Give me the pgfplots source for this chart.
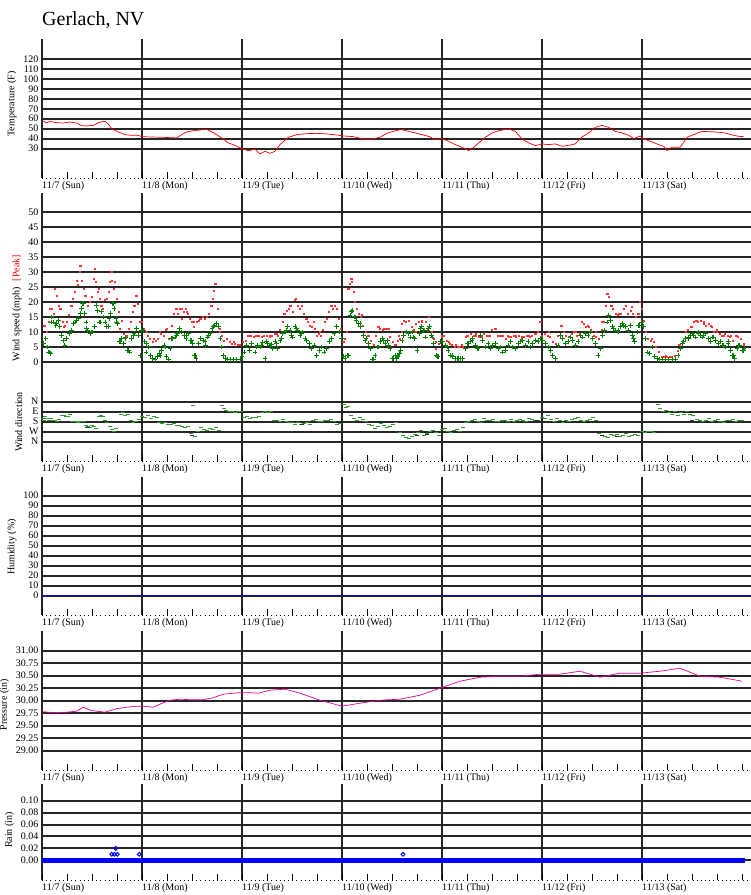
\documentclass[border=0pt]{standalone}
\usepackage{fontspec}
\setmainfont{Liberation Serif}
\usepackage{pgfplots}
\pgfplotsset{compat=1.18}
\usepackage{pgfplotstable}

\definecolor{windgreen}{RGB}{0,128,0}

\pgfplotsset{
  panel/.style={
    scale only axis, width=709pt, xmin=0, xmax=7.09,
    axis x line*=bottom, axis y line*=left,
    y axis line style={draw=none},
    x axis line style={black, line width=0.8pt, dash pattern=on 0.8pt off 3.37pt},
    xtick={0,...,6},
    xticklabels={11/7 (Sun),11/8 (Mon),11/9 (Tue),11/10 (Wed),11/11 (Thu),11/12 (Fri),11/13 (Sat)},
    minor xtick={0,0.25,...,7},
    major tick length=0pt, minor tick length=6pt,
    tick align=inside,
    minor tick style={black, line width=0.8pt},
    xmajorgrids, ymajorgrids,
    grid style={black!85, line width=2pt},
    tick label style={font=\fontsize{10}{12}\selectfont},
    label style={font=\fontsize{10}{12}\selectfont},
    xticklabel style={anchor=north west, inner sep=0pt, yshift=-3pt},
    /pgf/number format/assume math mode=true,
  },
}

% temperature (F)
\pgfplotstableread{
d t
0.007 58
0.047 55.7
0.08 57.3
0.147 56
0.213 55.7
0.28 56.7
0.347 55.7
0.397 53
0.447 52.7
0.513 53.3
0.58 56.7
0.63 57.3
0.663 54.7
0.697 50
0.763 46.7
0.83 44
0.897 43.3
0.963 43.3
0.997 42
1.08 41.7
1.213 41.3
1.347 40.7
1.397 44
1.447 46.7
1.513 48
1.58 48.7
1.647 49.3
1.713 46
1.797 40.7
1.863 35.7
1.93 33.3
1.997 30
2.063 28
2.13 29.3
2.18 24.7
2.23 27.3
2.28 25.3
2.33 27.3
2.38 34
2.463 41.3
2.547 44
2.647 45
2.747 45.3
2.847 44.7
2.947 43.7
3.013 42.7
3.113 42
3.213 39.7
3.28 39.3
3.38 41.3
3.447 45.3
3.513 47.3
3.573 48.7
3.6 49
3.667 47.3
3.733 45.7
3.8 44
3.867 42.3
3.933 39
4.0 40
4.067 37.3
4.133 34
4.2 31.3
4.267 28
4.317 31.3
4.367 35.7
4.433 41.3
4.5 45.7
4.567 48
4.667 49.7
4.733 47.3
4.8 39.7
4.867 35.7
4.933 33
5.0 34.7
5.067 34
5.133 34.7
5.2 32.3
5.267 33.3
5.333 34.7
5.4 41.7
5.467 45.7
5.533 51.3
5.6 53.3
5.667 51.3
5.733 47.3
5.8 45.7
5.867 43.3
5.917 40
5.983 42.7
6.017 39.7
6.1 36.7
6.167 34
6.217 32.3
6.25 28
6.3 31.3
6.383 31.3
6.45 41.3
6.533 44.7
6.6 47.3
6.733 46.7
6.833 45.7
6.9 43.7
6.967 42.3
7.017 42
}\temptable

% average wind (mph)
\pgfplotstableread{
d w
0.013 6.1
0.02 6.1
0.04 7.8
0.053 5
0.063 3.3
0.073 3.3
0.087 2.8
0.097 13.3
0.1 15
0.12 13.3
0.14 12.2
0.147 12.8
0.163 13.9
0.18 11.7
0.197 8.9
0.213 7.2
0.23 5.6
0.247 7.8
0.273 9.4
0.28 9.4
0.297 10.6
0.313 12.8
0.33 13.3
0.34 13.9
0.363 14.4
0.38 16.1
0.393 17.8
0.407 19.4
0.413 19.4
0.423 16.1
0.44 13.3
0.447 11.1
0.457 10.6
0.48 9.4
0.497 10
0.507 10
0.523 11.7
0.54 18.9
0.547 18.9
0.553 17.2
0.573 13.3
0.58 13.3
0.597 16.7
0.613 15
0.63 13.3
0.647 11.7
0.663 11.7
0.67 14.4
0.687 16.1
0.703 19.4
0.713 19.4
0.72 17.8
0.74 14.4
0.747 13.3
0.757 12.8
0.773 6.7
0.78 6.7
0.797 7.8
0.813 6.1
0.83 7.8
0.833 8.3
0.853 3.9
0.863 3.9
0.873 3.3
0.897 7.8
0.913 8.9
0.92 9.4
0.94 11.1
0.947 11.1
0.963 8.9
0.98 2.2
0.997 10.6
1.013 10.6
1.02 6.7
1.04 3.3
1.047 6.1
1.063 5
1.08 2.2
1.087 2.2
1.107 1.1
1.13 0.9
1.153 1.7
1.173 2.8
1.18 2.2
1.197 3.9
1.22 5.6
1.23 5
1.24 1.7
1.263 0.9
1.28 4.4
1.297 7.8
1.307 7.8
1.33 8.3
1.347 8.9
1.353 9.4
1.373 11.1
1.397 10
1.42 8.9
1.44 7.8
1.447 8.9
1.463 9.4
1.487 7.2
1.497 7.2
1.507 6.1
1.523 2.2
1.53 2.2
1.54 1.1
1.563 6.1
1.58 7.8
1.587 7.8
1.613 7.2
1.63 6.7
1.637 5.6
1.657 8.3
1.663 8.9
1.68 9.4
1.7 11.1
1.713 11.7
1.72 12.2
1.74 12.8
1.747 12.8
1.763 11.7
1.78 7.8
1.797 5
1.813 2.2
1.83 1.1
1.853 0.9
1.88 0.9
1.913 0.9
1.947 0.9
1.98 0.9
2.0 1.7
2.02 3.3
2.047 5.6
2.073 3.9
2.097 6.1
2.13 3.3
2.147 5
2.153 5.6
2.18 5
2.197 5.6
2.207 6.4
2.23 1.1
2.247 6.7
2.253 6.1
2.28 5.6
2.297 5.8
2.307 4.4
2.33 6.7
2.347 6.1
2.353 4.4
2.38 7.2
2.397 7.8
2.407 9.4
2.43 10
2.447 10.6
2.453 11.7
2.48 10.6
2.497 8.9
2.507 8.3
2.53 11.7
2.547 11.1
2.553 10.6
2.58 8.9
2.597 9.4
2.607 10
2.63 7.8
2.647 7.2
2.673 6.1
2.697 4.4
2.72 5.6
2.747 2.2
2.773 3.9
2.797 5
2.82 3.3
2.847 4.4
2.873 6.7
2.897 7.8
2.92 9.4
2.947 11.7
2.97 10
2.99 7.8
2.997 7.8
3.013 1.7
3.03 1.1
3.053 2.2
3.063 2.2
3.08 15.6
3.097 16.7
3.1 17.2
3.12 15
3.13 15
3.14 13.9
3.163 12.8
3.18 12.8
3.187 11.7
3.213 8.9
3.23 7.2
3.24 7.8
3.263 6.1
3.287 4.4
3.307 0.9
3.313 0.9
3.33 2.2
3.353 5
3.363 5
3.38 6.7
3.407 7.8
3.413 7.2
3.43 6.1
3.453 7.2
3.463 5.6
3.48 4.4
3.507 1.1
3.513 1.1
3.53 2.2
3.543 1.1
3.553 1.7
3.56 1.7
3.573 2.8
3.583 3.9
3.6 7.2
3.617 8.9
3.64 10
3.66 9.4
3.667 9.4
3.683 8.3
3.707 10
3.717 8.3
3.727 7.8
3.75 3.9
3.773 9.4
3.783 11.1
3.793 11.7
3.813 10.6
3.833 8.3
3.853 10.6
3.867 11.1
3.873 11.7
3.893 8.9
3.9 8.3
3.917 6.1
3.94 2.2
3.95 1.7
3.96 1.7
3.983 6.7
4.0 6.7
4.007 6.7
4.033 5.6
4.05 5
4.06 3.9
4.083 2.2
4.1 2.2
4.107 1.7
4.133 1.1
4.15 1.1
4.16 1.1
4.183 1.1
4.2 1.1
4.207 1.1
4.233 4.4
4.25 6.1
4.26 6.1
4.283 6.7
4.3 7.2
4.307 7.8
4.333 5.6
4.35 4.4
4.36 4.4
4.383 8.9
4.407 7.2
4.433 5
4.46 6.1
4.483 4.4
4.507 5.6
4.533 6.1
4.56 4.4
4.583 5
4.607 3.3
4.633 3.9
4.66 5.6
4.683 6.7
4.707 5
4.733 4.4
4.76 6.1
4.783 6.7
4.807 7.2
4.833 5.6
4.86 6.7
4.883 5
4.907 6.1
4.933 7.2
4.96 6.7
4.983 7.8
5.007 7.2
5.033 6.1
5.06 5
5.083 3.9
5.107 2.2
5.133 1.1
5.16 5.6
5.183 8.9
5.207 7.8
5.233 6.1
5.26 6.7
5.283 8.3
5.307 7.2
5.333 5.6
5.36 6.7
5.383 8.9
5.407 8.3
5.433 9.4
5.46 8.9
5.483 10
5.507 7.8
5.533 6.1
5.56 2.2
5.583 4.4
5.607 8.9
5.627 10.6
5.65 13.3
5.667 15.6
5.683 13.9
5.707 11.7
5.717 11.1
5.733 10.6
5.76 10.6
5.767 10
5.783 11.7
5.807 12.8
5.817 12.2
5.833 11.7
5.86 10.6
5.867 10.6
5.883 12.2
5.907 8.9
5.917 7.8
5.927 6.7
5.95 10
5.967 12.2
5.973 12.2
5.993 13.3
6.017 11.7
6.033 7.8
6.05 3.3
6.073 2.8
6.1 5
6.127 1.7
6.15 1.1
6.173 0.9
6.2 0.9
6.233 0.9
6.267 0.9
6.3 0.9
6.333 0.9
6.36 2.2
6.383 4.4
6.407 6.1
6.417 6.7
6.433 7.8
6.46 8.3
6.467 7.8
6.483 8.9
6.507 9.4
6.517 8.9
6.533 8.3
6.56 10
6.567 9.4
6.583 8.9
6.607 8.3
6.617 8.9
6.633 9.4
6.66 7.8
6.667 7.8
6.683 6.7
6.707 8.3
6.717 8.3
6.733 7.2
6.76 6.1
6.767 6.1
6.783 6.7
6.807 5.6
6.817 5.6
6.833 5
6.86 6.1
6.867 6.7
6.883 3.9
6.907 2.2
6.917 2.2
6.927 1.1
6.95 4.4
6.967 5.6
6.973 5.6
7.0 3.9
7.017 3.9
7.02 4.4
}\windtable

% peak wind (mph)
\pgfplotstableread{
d p
0.013 12.2
0.027 12.2
0.047 10
0.067 13.3
0.08 17.8
0.097 17.8
0.113 16.1
0.13 24.4
0.147 22.2
0.163 18.9
0.18 17.8
0.187 17.8
0.207 13.3
0.22 11.7
0.23 12.2
0.247 13.3
0.267 15.6
0.287 18.9
0.297 18.9
0.307 21.1
0.327 23.3
0.347 27.2
0.36 25.6
0.373 30
0.38 32.2
0.387 32.2
0.4 27.2
0.413 24.4
0.43 22.2
0.433 22.2
0.453 18.9
0.473 20
0.48 20
0.497 21.7
0.513 27.8
0.523 31.1
0.533 26.7
0.553 23.3
0.563 24.4
0.573 21.1
0.587 18.9
0.597 18.9
0.607 17.8
0.63 20.6
0.647 21.1
0.667 23.3
0.68 26.7
0.69 30
0.697 30
0.7 27.2
0.713 24.4
0.73 26.7
0.747 21.1
0.767 16.7
0.78 11.1
0.8 13.9
0.82 9.4
0.84 8.9
0.847 8.9
0.863 11.1
0.887 13.3
0.907 16.7
0.913 18.9
0.923 18.9
0.94 22.2
0.947 22.2
0.957 19.4
0.973 13.3
0.993 13.3
0.997 13.3
1.013 11.1
1.033 10
1.047 10
1.053 8.9
1.08 7.8
1.107 6.7
1.113 7.8
1.133 7.2
1.16 7.8
1.18 10
1.187 9.4
1.213 8.9
1.24 10.6
1.247 11.1
1.267 7.8
1.293 12.2
1.313 16.1
1.333 17.8
1.347 17.8
1.353 16.1
1.373 17.8
1.393 14.4
1.397 17.8
1.413 16.7
1.433 17.8
1.447 16.7
1.453 16.1
1.473 14.4
1.5 13.3
1.513 13.3
1.52 11.7
1.547 13.3
1.567 13.9
1.58 14.4
1.587 14.4
1.607 15
1.627 14.4
1.647 15
1.667 16.1
1.687 18.9
1.697 18.9
1.707 21.1
1.72 23.9
1.73 26.1
1.733 26.1
1.753 17.8
1.773 11.1
1.78 10
1.793 8.9
1.82 7.2
1.847 7.8
1.873 6.7
1.9 6.1
1.913 6.7
1.927 6.1
1.953 5.6
1.98 5.6
2.007 6.7
2.033 7.2
2.06 8.9
2.063 8.9
2.087 8.9
2.113 8.3
2.14 8.9
2.147 8.9
2.167 8.9
2.193 8.3
2.213 8.9
2.22 8.9
2.247 8.9
2.273 8.3
2.28 8.9
2.3 8.9
2.327 9.4
2.347 9.4
2.353 8.9
2.38 10.6
2.407 13.3
2.413 16.1
2.427 16.1
2.447 17.2
2.467 17.8
2.48 18.9
2.487 18.9
2.507 16.7
2.527 20.6
2.54 21.1
2.56 18.9
2.58 17.8
2.597 18.9
2.6 18.9
2.62 16.1
2.64 14.4
2.647 14.4
2.66 13.3
2.68 12.2
2.7 11.7
2.713 13.3
2.727 11.1
2.747 8.9
2.767 9.4
2.78 10
2.787 8.9
2.807 10.6
2.827 13.3
2.847 14.4
2.867 16.7
2.887 18.9
2.897 18.9
2.907 17.8
2.927 18.9
2.947 17.8
2.967 14.4
2.987 11.1
3.007 6.7
3.013 6.7
3.027 7.8
3.047 10
3.06 24.4
3.063 24.4
3.073 26.1
3.087 27.8
3.097 27.8
3.1 26.7
3.113 23.3
3.127 20
3.13 20
3.147 17.8
3.167 16.1
3.187 15
3.197 15.6
3.207 12.2
3.233 10
3.26 8.9
3.263 8.9
3.287 7.2
3.313 5.6
3.34 8.9
3.36 11.7
3.363 11.7
3.38 11.1
3.407 10.6
3.413 11.1
3.433 11.1
3.46 11.1
3.463 11.1
3.48 8.3
3.507 6.7
3.53 5.6
3.533 5.6
3.56 7.2
3.567 8.9
3.573 7.8
3.593 12.8
3.6 10
3.617 13.9
3.64 13.3
3.667 13.9
3.693 11.7
3.717 10.6
3.733 10
3.74 12.8
3.767 13.3
3.793 13.9
3.8 13.3
3.817 11.1
3.84 13.3
3.867 15
3.893 10
3.917 7.8
3.933 6.7
3.94 4.4
3.967 6.1
3.993 8.3
4.0 8.9
4.02 8.9
4.05 7.2
4.067 6.7
4.073 6.1
4.1 5.6
4.127 5
4.133 5.6
4.153 5
4.18 5
4.2 5.6
4.207 5
4.233 8.3
4.25 8.9
4.26 8.9
4.287 9.4
4.313 8.9
4.333 8.9
4.34 9.4
4.367 8.3
4.393 8.9
4.4 8.3
4.42 9.4
4.447 8.9
4.467 8.9
4.473 8.9
4.5 10.6
4.527 11.1
4.533 11.1
4.553 8.9
4.58 8.9
4.6 8.9
4.607 8.9
4.633 7.8
4.66 8.9
4.667 8.3
4.687 8.3
4.713 8.9
4.733 8.9
4.74 8.3
4.767 8.9
4.793 7.8
4.8 8.3
4.82 8.3
4.847 8.9
4.867 8.9
4.873 8.3
4.9 8.9
4.927 9.4
4.933 9.4
4.953 10
4.973 13.3
4.983 13.3
5.0 8.9
5.027 9.4
5.053 8.9
5.067 10
5.08 8.3
5.107 6.7
5.133 6.1
5.16 8.9
5.187 12.2
5.2 12.2
5.213 10
5.24 8.9
5.267 8.3
5.293 9.4
5.32 10
5.333 10
5.347 8.9
5.373 9.4
5.4 13.3
5.42 12.8
5.44 11.7
5.46 12.2
5.467 11.7
5.487 10.6
5.513 8.9
5.533 10
5.54 8.3
5.567 7.8
5.593 10.6
5.6 13.3
5.62 13.3
5.64 18.9
5.65 22.8
5.653 22.8
5.667 21.7
5.687 18.9
5.7 18.9
5.707 17.8
5.733 16.1
5.76 15.6
5.767 16.1
5.787 16.1
5.813 17.8
5.833 18.9
5.86 16.1
5.887 17.2
5.9 18.3
5.907 16.1
5.933 15
5.96 16.1
5.967 16.1
5.98 20
5.993 17.8
6.013 13.9
6.033 10
6.06 7.8
6.087 7.2
6.1 7.8
6.113 6.7
6.14 5
6.167 3.3
6.193 1.7
6.22 1.7
6.233 2.2
6.247 1.7
6.273 1.7
6.3 1.7
6.327 2.2
6.353 3.9
6.367 5.6
6.38 5.6
6.407 7.2
6.433 10
6.46 10.6
6.487 11.7
6.5 11.7
6.513 13.3
6.533 13.9
6.55 13.9
6.56 13.3
6.587 13.9
6.613 12.8
6.617 13.3
6.64 12.2
6.667 12.8
6.683 12.2
6.693 11.7
6.72 10
6.747 10.6
6.75 10
6.773 9.4
6.8 8.9
6.817 8.9
6.827 9.4
6.853 8.9
6.88 8.3
6.883 8.9
6.907 7.2
6.933 8.9
6.95 8.9
6.96 8.3
6.987 7.8
7.013 6.1
7.017 5.6
}\peaktable

% wind direction (degrees)
\pgfplotstableread{
d a
0.01 150
0.02 170
0.03 135
0.05 150
0.07 165
0.09 150
0.11 170
0.13 165
0.15 175
0.17 160
0.2 125
0.22 120
0.24 130
0.26 135
0.28 115
0.3 180
0.32 180
0.34 175
0.36 185
0.38 180
0.4 180
0.42 180
0.44 215
0.46 225
0.48 235
0.5 210
0.52 225
0.54 240
0.57 130
0.59 120
0.61 135
0.63 170
0.65 185
0.68 225
0.7 245
0.72 265
0.74 240
0.79 110
0.81 100
0.83 120
0.86 115
0.89 165
0.91 185
0.94 175
0.97 160
1.0 130
1.03 140
1.06 125
1.09 150
1.12 135
1.15 145
1.17 190
1.2 195
1.23 185
1.26 205
1.29 200
1.32 195
1.35 210
1.37 215
1.4 225
1.43 235
1.46 220
1.49 285
1.51 30
1.53 315
1.56 270
1.59 230
1.62 245
1.65 255
1.68 240
1.71 250
1.74 235
1.77 255
1.8 30
1.82 60
1.84 75
1.87 90
1.9 90
1.93 95
1.96 90
1.99 90
2.02 140
2.05 135
2.08 150
2.11 145
2.14 140
2.17 135
2.2 95
2.23 90
2.26 100
2.29 85
2.32 170
2.35 165
2.38 180
2.41 160
2.44 175
2.47 185
2.5 190
2.53 200
2.56 185
2.59 205
2.62 195
2.65 190
2.68 200
2.71 170
2.74 160
2.77 175
2.8 180
2.83 165
2.86 170
2.89 160
2.92 175
2.95 200
2.98 195
3.02 20
3.04 55
3.06 40
3.09 120
3.12 150
3.15 165
3.18 140
3.21 160
3.24 180
3.27 200
3.3 215
3.33 240
3.36 220
3.39 195
3.42 210
3.45 230
3.48 225
3.51 200
3.54 190
3.58 280
3.61 300
3.64 320
3.67 330
3.7 310
3.73 295
3.76 280
3.79 260
3.82 300
3.85 285
3.88 270
3.91 255
3.94 280
3.97 300
4.0 250
4.03 240
4.06 265
4.09 280
4.12 260
4.15 245
4.18 270
4.21 235
4.24 190
4.27 180
4.3 170
4.33 160
4.36 175
4.39 185
4.42 150
4.45 165
4.48 170
4.51 160
4.54 180
4.57 175
4.6 165
4.63 170
4.66 180
4.69 160
4.72 175
4.75 170
4.78 160
4.81 165
4.84 175
4.87 150
4.9 160
4.93 170
4.96 165
5.0 140
5.03 150
5.06 120
5.09 160
5.12 175
5.15 150
5.18 165
5.21 185
5.24 170
5.27 175
5.3 160
5.33 150
5.36 140
5.39 165
5.42 180
5.45 170
5.48 155
5.51 145
5.54 165
5.57 285
5.6 300
5.63 310
5.66 320
5.69 295
5.72 305
5.75 290
5.78 310
5.81 300
5.84 285
5.87 315
5.9 300
5.93 290
5.96 305
6.0 270
6.03 275
6.06 265
6.09 270
6.12 280
6.16 20
6.18 60
6.21 90
6.24 80
6.27 100
6.3 110
6.33 90
6.36 120
6.39 100
6.42 115
6.45 90
6.48 110
6.51 120
6.55 160
6.58 170
6.61 175
6.64 165
6.67 150
6.7 180
6.73 170
6.76 160
6.79 175
6.82 185
6.85 165
6.88 170
6.91 160
6.94 175
6.97 165
7.0 170
}\dirtable

% calm-period direction readings drawn in black
\pgfplotstableread{
d a
0.45 230
1.5 300
2.6 200
2.9 175
3.75 300
3.85 290
4.6 175
4.95 170
5.6 300
5.75 310
6.5 165
}\dirblacktable

% pressure (in)
\pgfplotstableread{
d p
0.013 29.78
0.113 29.76
0.247 29.77
0.347 29.79
0.413 29.87
0.48 29.81
0.547 29.79
0.63 29.77
0.68 29.80
0.747 29.84
0.847 29.87
0.947 29.89
1.013 29.89
1.113 29.87
1.18 29.93
1.28 30.01
1.38 30.03
1.48 30.02
1.613 30.02
1.713 30.06
1.813 30.13
1.913 30.15
1.98 30.16
2.08 30.16
2.163 30.15
2.28 30.21
2.43 30.23
2.58 30.15
2.78 30.01
3.0 29.89
3.18 29.95
3.38 30.01
3.58 30.03
3.78 30.11
3.98 30.25
4.18 30.39
4.38 30.47
4.58 30.49
4.78 30.49
4.98 30.53
5.18 30.53
5.38 30.59
5.58 30.47
5.78 30.55
5.98 30.55
6.18 30.59
6.38 30.65
6.58 30.49
6.78 30.47
7.0 30.39
}\prestable

\begin{document}
\begin{tikzpicture}
\path[use as bounding box] (0pt,0pt) rectangle (751pt,895pt);
\node[anchor=base west, inner sep=0pt, font=\fontsize{20}{24}\selectfont] at (42pt,869pt) {Gerlach, NV};

% temperature
\begin{axis}[panel, at={(42pt,717pt)}, anchor=south west, height=139pt,
  ymin=0.5, ymax=140, ytick={30,40,...,120},
  ylabel={Temperature (F)}, ylabel style={at={(ticklabel cs:0.532)}}]
  \addplot[red, line width=0.7pt] table[x=d, y=t] {\temptable};
\end{axis}

% wind speed
\begin{axis}[panel, at={(42pt,434pt)}, anchor=south west, height=268pt,
  ymin=-33, ymax=56.33, ytick={0,5,...,50},
  ylabel={Wind speed (mph)\hspace{6pt}\textcolor{red}{[Peak]}},
  ylabel style={at={(ticklabel cs:0.571)}}]
  \addplot[only marks, red!80, mark=square*, mark size=0.5pt] table[x=d, y=p] {\peaktable};
  \addplot[only marks, windgreen, mark=+, mark size=2.4pt, line width=1pt] table[x=d, y=w] {\windtable};
\end{axis}

% wind direction (same box)
\begin{axis}[scale only axis, width=709pt, height=268pt, at={(42pt,434pt)}, anchor=south west,
  xmin=0, xmax=7.09, y dir=reverse, ymin=-1878.3, ymax=533.7,
  axis line style={draw=none}, xtick=\empty,
  ytick={0,90,180,270,360}, yticklabels={N,E,S,W,N},
  major tick length=0pt, ymajorgrids,
  grid style={black!85, line width=2pt},
  tick label style={font=\fontsize{10}{12}\selectfont},
  label style={font=\fontsize{10}{12}\selectfont},
  ylabel={Wind direction}, ylabel style={at={(ticklabel cs:0.1455)}}]
  \addplot[only marks, windgreen!80, mark=-, mark size=2pt, line width=0.7pt] table[x=d, y=a] {\dirtable};
  \addplot[only marks, black!80, mark=-, mark size=2pt, line width=0.7pt] table[x=d, y=a] {\dirblacktable};
\end{axis}

% humidity
\begin{axis}[panel, at={(42pt,280pt)}, anchor=south west, height=138pt,
  ymin=-19.3, ymax=118.7, ytick={0,10,...,100},
  ylabel={Humidity (\%)}, ylabel style={at={(ticklabel cs:0.493)}}]
  \addplot[blue, line width=1pt] coordinates {(0,0) (7.09,0)};
\end{axis}

% pressure
\begin{axis}[panel, at={(42pt,125pt)}, anchor=south west, height=139pt,
  ymin=28.614, ymax=31.394, ytick={29,29.25,...,31},
  yticklabel style={/pgf/number format/.cd, fixed, fixed zerofill, precision=2},
  ylabel={Pressure (in)}, ylabel style={at={(ticklabel cs:0.468)}}]
  \addplot[magenta, line width=0.7pt] table[x=d, y=p] {\prestable};
\end{axis}

% rain
\begin{axis}[panel, at={(42pt,15pt)}, anchor=south west, height=96pt,
  ymin=-0.0331, ymax=0.128, ytick={0,0.02,...,0.1},
  yticklabel style={/pgf/number format/.cd, fixed, fixed zerofill, precision=2},
  ylabel={Rain (in)}, ylabel style={at={(ticklabel cs:0.52)}}]
  \addplot[blue, line width=5pt] coordinates {(0,0) (7.03,0)};
  \addplot[only marks, blue, mark=o, mark size=1.9pt, line width=1pt] coordinates {
    (0.697,0.01) (0.723,0.01) (0.753,0.01) (0.737,0.02) (0.973,0.01) (3.61,0.01)};
\end{axis}
\end{tikzpicture}
\end{document}
